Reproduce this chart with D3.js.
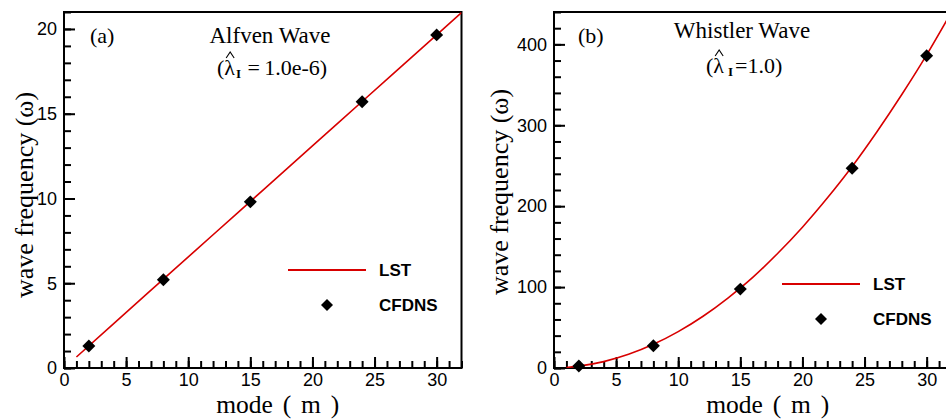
<!DOCTYPE html>
<html>
<head>
<meta charset="utf-8">
<script src="https://cdn.jsdelivr.net/npm/d3@7"></script>
<style>
  body { margin: 0; background: #fff; }
  .tick text { font-family: "Liberation Sans", Arial, sans-serif; font-size: 18px; fill: #000; }
  .serif { font-family: "Liberation Serif", "Times New Roman", serif; fill: #000; }
  .legend { font-family: "Liberation Sans", Arial, sans-serif; font-size: 17px; font-weight: bold; fill: #000; }
</style>
</head>
<body>
<svg id="chart" width="946" height="419"></svg>
<script>
// Mode numbers sampled by the CFDNS runs
const simModes = [2, 8, 15, 24, 30];

// Panel (a): Alfven wave
const alfvenCfdns = [1.3, 5.2, 9.8, 15.7, 19.65];
const alfvenLstModes = [1, 4, 8, 12, 16, 20, 24, 28, 32];
const alfvenLst = [0.65, 2.62, 5.24, 7.86, 10.48, 13.1, 15.72, 18.34, 20.96];

// Panel (b): Whistler wave
const whistlerCfdns = [2.5, 27.6, 97.5, 247, 386];
const whistlerLstModes = [1, 2, 4, 6, 8, 10, 12, 14, 16, 18, 20, 22, 24, 26, 28, 30, 32];
const whistlerLst = [0.7, 2.3, 7.9, 16.9, 29.3, 45, 64, 86.5, 112, 141.5, 174, 210, 249, 292, 338, 387, 440];

// Axis ticks
const xMajorTicks = [0, 5, 10, 15, 20, 25, 30];
const xMinorTicks = d3.range(0, 33, 1);
const alfvenYMajor = [0, 5, 10, 15, 20];
const alfvenYMinor = d3.range(0, 22, 1);
const whistlerYMajor = [0, 100, 200, 300, 400];
const whistlerYMinor = d3.range(0, 441, 20);

const svg = d3.select("#chart");
const LINE_RED = "#d80000";
const plotW = 397.5, plotH = 356;

function diamond(size) {
  return d3.symbol().type(d3.symbolSquare).size(size);
}

function drawPanel(o) {
  const g = svg.append("g").attr("transform", `translate(${o.left},${o.top})`);
  const x = d3.scaleLinear().domain([0, 32]).range([0, plotW]);
  const y = d3.scaleLinear().domain([0, o.yMax]).range([plotH, 0]);

  const clipId = "clip-" + o.id;
  g.append("clipPath").attr("id", clipId)
    .append("rect").attr("width", plotW).attr("height", plotH);

  // minor ticks (inward)
  g.append("g").attr("transform", `translate(0,${plotH})`)
    .call(d3.axisBottom(x).tickValues(xMinorTicks).tickSize(-7).tickFormat(""))
    .call(a => a.select(".domain").remove());
  g.append("g")
    .call(d3.axisLeft(y).tickValues(o.yMinor).tickSize(-7).tickFormat(""))
    .call(a => a.select(".domain").remove());

  // major ticks with labels
  g.append("g").attr("transform", `translate(0,${plotH})`)
    .call(d3.axisBottom(x).tickValues(xMajorTicks).tickSize(-11).tickPadding(5).tickFormat(d3.format("d")))
    .call(a => a.select(".domain").remove());
  g.append("g")
    .call(d3.axisLeft(y).tickValues(o.yMajor).tickSize(-11).tickPadding(7).tickFormat(d3.format("d")))
    .call(a => a.select(".domain").remove());

  g.selectAll(".tick line").attr("stroke", "#000").attr("stroke-width", 2);

  // frame
  g.append("rect").attr("width", plotW).attr("height", plotH)
    .attr("fill", "none").attr("stroke", "#000").attr("stroke-width", 2);

  // LST curve
  const line = d3.line()
    .x((d, i) => x(o.lstModes[i]))
    .y(d => y(d))
    .curve(d3.curveMonotoneX);
  g.append("path").datum(o.lst)
    .attr("clip-path", `url(#${clipId})`)
    .attr("d", line)
    .attr("fill", "none").attr("stroke", LINE_RED).attr("stroke-width", 1.6);

  // CFDNS points
  g.selectAll(".pt").data(o.cfdns).join("path")
    .attr("class", "pt")
    .attr("d", diamond(84))
    .attr("transform", (d, i) => `translate(${x(simModes[i])},${y(d)}) rotate(45)`)
    .attr("fill", "#000");

  // axis titles
  svg.append("text").attr("class", "serif")
    .attr("x", o.left + plotW / 2 + 15).attr("y", 413)
    .attr("text-anchor", "middle").attr("font-size", 25.5)
    .attr("word-spacing", 3.5)
    .text("mode ( m )");
  svg.append("text").attr("class", "serif")
    .attr("transform", `translate(${o.yTitleX},${o.yTitleY}) rotate(-90)`)
    .attr("text-anchor", "middle").attr("font-size", 26)
    .text("wave frequency (ω)");

  // panel tag and wave name
  svg.append("text").attr("class", "serif").attr("font-size", 22)
    .attr("x", o.tagX).attr("y", 43).text(o.tag);
  svg.append("text").attr("class", "serif").attr("font-size", 23)
    .attr("x", o.nameX).attr("y", o.nameY).attr("text-anchor", "middle").text(o.name);

  // (λ̂_I = value): lambda, bold subscript I, and a circumflex accent over lambda
  const lam = svg.append("text").attr("class", "serif").attr("font-size", 22)
    .attr("x", o.lamX).attr("y", o.lamY);
  lam.append("tspan").text("(\u03BB");
  lam.append("tspan").attr("font-size", 13).attr("font-weight", "bold")
    .attr("dx", o.subGap).attr("dy", 3).text("I");
  lam.append("tspan").attr("dy", -3).attr("dx", 2)
    .text(o.eqSep + "=" + o.eqSep + o.lamValue + ")");
  const box = lam.node().getExtentOfChar(1);
  const hx = box.x + box.width / 2 + 0.5, hy = o.lamY - 17;
  svg.append("path")
    .attr("d", `M${hx - 4},${hy} L${hx},${hy - 6} L${hx + 4},${hy}`)
    .attr("fill", "none").attr("stroke", "#000").attr("stroke-width", 1.1)
    .attr("stroke-linejoin", "miter");

  // legend
  svg.append("line")
    .attr("x1", o.legX).attr("x2", o.legX + 78)
    .attr("y1", o.legY).attr("y2", o.legY)
    .attr("stroke", LINE_RED).attr("stroke-width", 2);
  svg.append("text").attr("class", "legend")
    .attr("x", o.legX + 91).attr("y", o.legY).attr("dy", "0.36em").text("LST");
  svg.append("path").attr("d", diamond(72))
    .attr("transform", `translate(${o.legX + 39},${o.legY + 35}) rotate(45)`)
    .attr("fill", "#000");
  svg.append("text").attr("class", "legend")
    .attr("x", o.legX + 91).attr("y", o.legY + 35).attr("dy", "0.36em").text("CFDNS");
}

drawPanel({
  id: "a", left: 64, top: 12, yMax: 21,
  yMajor: alfvenYMajor, yMinor: alfvenYMinor,
  lstModes: alfvenLstModes, lst: alfvenLst, cfdns: alfvenCfdns,
  yTitleX: 33, yTitleY: 195,
  tag: "(a)", tagX: 90, name: "Alfven Wave", nameX: 270, nameY: 43,
  lamX: 217, lamY: 75, lamValue: "1.0e-6", subGap: 1, eqSep: "\u2009",
  legX: 288, legY: 270
});

drawPanel({
  id: "b", left: 554, top: 12, yMax: 440,
  yMajor: whistlerYMajor, yMinor: whistlerYMinor,
  lstModes: whistlerLstModes, lst: whistlerLst, cfdns: whistlerCfdns,
  yTitleX: 508, yTitleY: 192,
  tag: "(b)", tagX: 578, name: "Whistler Wave", nameX: 742, nameY: 38,
  lamX: 706, lamY: 73, lamValue: "1.0", subGap: 4, eqSep: "",
  legX: 782, legY: 284
});
</script>
</body>
</html>
